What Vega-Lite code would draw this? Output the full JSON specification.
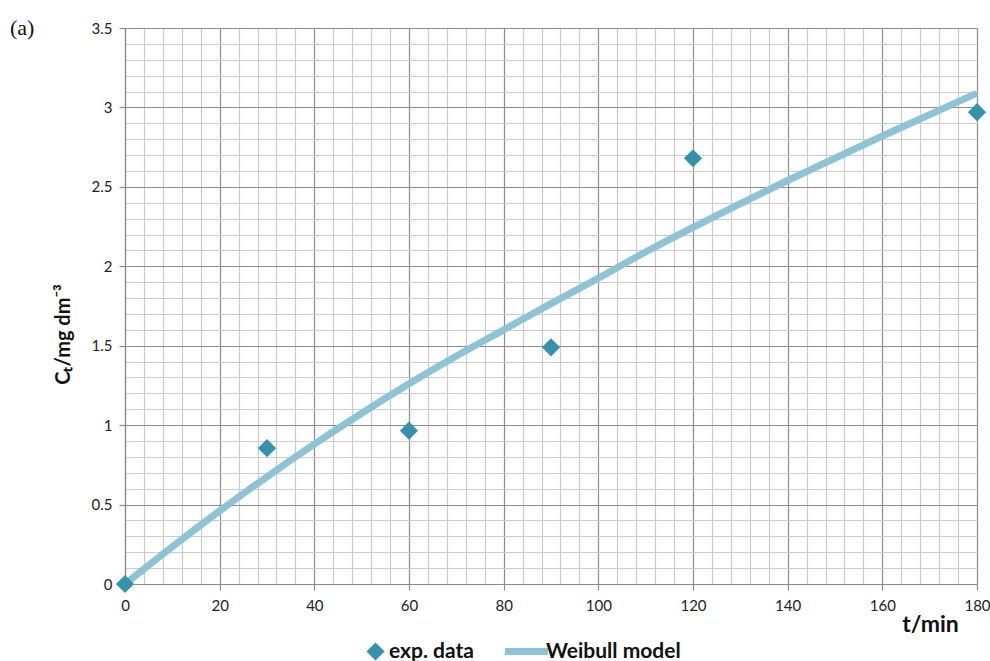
{
  "$schema": "https://vega.github.io/schema/vega-lite/v6.json",
  "autosize": "none",
  "width": 852,
  "height": 556,
  "padding": {"left": 125, "top": 28, "right": 13, "bottom": 77},
  "background": "white",
  "title": {
    "text": "(a)",
    "anchor": "start",
    "frame": "group",
    "dx": -115,
    "offset": 0,
    "baseline": "alphabetic",
    "dy": 36,
    "font": "Liberation Serif",
    "fontSize": 22,
    "fontWeight": "normal",
    "color": "#111"
  },
  "datasets": {
    "measured": [
      {"t": 0, "C": 0.0, "series": "exp. data"},
      {"t": 30, "C": 0.855, "series": "exp. data"},
      {"t": 60, "C": 0.965, "series": "exp. data"},
      {"t": 90, "C": 1.49, "series": "exp. data"},
      {"t": 120, "C": 2.68, "series": "exp. data"},
      {"t": 180, "C": 2.97, "series": "exp. data"}
    ],
    "weibull": [
      {"t": 0, "C": 0.0, "series": "Weibull model"},
      {"t": 10, "C": 0.235, "series": "Weibull model"},
      {"t": 20, "C": 0.46, "series": "Weibull model"},
      {"t": 30, "C": 0.675, "series": "Weibull model"},
      {"t": 40, "C": 0.88, "series": "Weibull model"},
      {"t": 50, "C": 1.075, "series": "Weibull model"},
      {"t": 60, "C": 1.26, "series": "Weibull model"},
      {"t": 70, "C": 1.435, "series": "Weibull model"},
      {"t": 80, "C": 1.6, "series": "Weibull model"},
      {"t": 90, "C": 1.765, "series": "Weibull model"},
      {"t": 100, "C": 1.925, "series": "Weibull model"},
      {"t": 110, "C": 2.09, "series": "Weibull model"},
      {"t": 120, "C": 2.245, "series": "Weibull model"},
      {"t": 130, "C": 2.395, "series": "Weibull model"},
      {"t": 140, "C": 2.54, "series": "Weibull model"},
      {"t": 150, "C": 2.68, "series": "Weibull model"},
      {"t": 160, "C": 2.82, "series": "Weibull model"},
      {"t": 170, "C": 2.955, "series": "Weibull model"},
      {"t": 180, "C": 3.09, "series": "Weibull model"}
    ]
  },
  "config": {
    "view": {"stroke": null},
    "axis": {
      "labelFont": "Lato",
      "labelFontSize": 15,
      "labelColor": "#222",
      "titleFont": "Lato",
      "titleFontWeight": "bold",
      "titleColor": "#111",
      "domainColor": "#8a8a8a",
      "domainWidth": 1.2,
      "tickColor": "#8a8a8a",
      "tickWidth": 1.2,
      "gridWidth": 1.2
    },
    "legend": {
      "labelFont": "Lato",
      "labelFontSize": 21,
      "labelFontWeight": "bold",
      "labelColor": "#111"
    }
  },
  "encoding": {
    "x": {
      "field": "t",
      "type": "quantitative",
      "scale": {"domain": [0, 180], "nice": false, "zero": false},
      "axis": {
        "values": [0,4,8,12,16,20,24,28,32,36,40,44,48,52,56,60,64,68,72,76,80,84,88,92,96,100,104,108,112,116,120,124,128,132,136,140,144,148,152,156,160,164,168,172,176,180],
        "labelExpr": "datum.value % 20 === 0 ? format(datum.value, 'd') : ''",
        "grid": true,
        "gridColor": {"condition": {"test": "datum.value % 20 === 0", "value": "#8c8c8c"}, "value": "#cbcbcb"},
        "tickSize": {"condition": {"test": "datum.value % 20 === 0", "value": 6}, "value": 0},
        "labelPadding": 8,
        "labelFlush": false,
        "labelOverlap": false,
        "title": "t/min",
        "titleFontSize": 23,
        "titleX": 805,
        "titleY": 40,
        "titleAlign": "center",
        "titleBaseline": "middle"
      }
    },
    "y": {
      "field": "C",
      "type": "quantitative",
      "scale": {"domain": [0, 3.5], "nice": false},
      "axis": {
        "values": [0,0.1,0.2,0.3,0.4,0.5,0.6,0.7,0.8,0.9,1,1.1,1.2,1.3,1.4,1.5,1.6,1.7,1.8,1.9,2,2.1,2.2,2.3,2.4,2.5,2.6,2.7,2.8,2.9,3,3.1,3.2,3.3,3.4,3.5],
        "labelExpr": "datum.value % 0.5 === 0 ? format(datum.value, '~g') : ''",
        "grid": true,
        "gridColor": {"condition": {"test": "datum.value % 0.5 === 0", "value": "#8c8c8c"}, "value": "#cbcbcb"},
        "tickSize": {"condition": {"test": "datum.value % 0.5 === 0", "value": 6}, "value": 0},
        "labelPadding": 7,
        "labelFlush": false,
        "labelOverlap": false,
        "title": "Cₜ/mg dm⁻³",
        "titleFontSize": 20,
        "titleAngle": 270,
        "titleX": -62,
        "titleY": 306,
        "titleAlign": "center",
        "titleBaseline": "middle"
      }
    }
  },
  "layer": [
    {
      "data": {"name": "weibull"},
      "mark": {"type": "line", "strokeWidth": 7, "interpolate": "monotone", "strokeCap": "butt"},
      "encoding": {
        "color": {
          "field": "series",
          "type": "nominal",
          "scale": {"domain": ["Weibull model"], "range": ["#8cc4d6"]},
          "legend": {
            "title": null,
            "orient": "none",
            "legendX": 376,
            "legendY": 598,
            "symbolType": "stroke",
            "symbolSize": 1850,
            "symbolStrokeWidth": 7,
            "labelOffset": -6
          }
        }
      }
    },
    {
      "data": {"name": "measured"},
      "mark": {"type": "point", "filled": true, "size": 330, "opacity": 1, "color": "#3393ad"},
      "encoding": {
        "shape": {
          "field": "series",
          "type": "nominal",
          "scale": {"domain": ["exp. data"], "range": ["diamond"]},
          "legend": {
            "title": null,
            "orient": "none",
            "legendX": 240,
            "legendY": 613,
            "symbolSize": 330,
            "symbolFillColor": "#3393ad",
            "symbolStrokeWidth": 0,
            "labelOffset": 3
          }
        }
      }
    }
  ]
}
